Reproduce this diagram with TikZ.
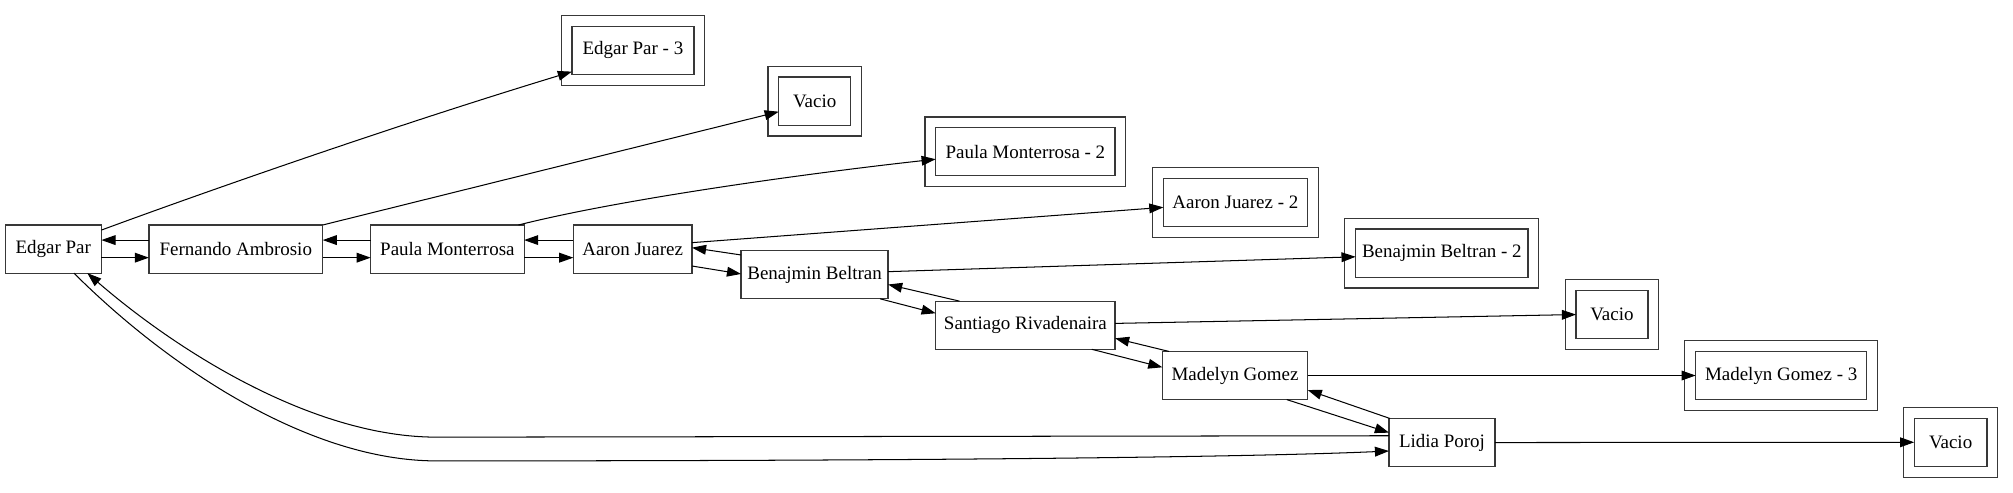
\documentclass[tikz,border=0pt]{standalone}
\usepackage{fontspec}
\setmainfont{Liberation Serif}
\usetikzlibrary{arrows.meta}
\tikzset{
  box/.style={draw=black!78, line width=0.95pt, rectangle, minimum height=37.5pt,
    inner sep=0pt, outer sep=0pt, font=\fontsize{14.78pt}{17pt}\selectfont},
  outerline/.style={draw=black!78, line width=0.95pt},
  edge/.style={draw=black, line width=0.8pt, -{Triangle[length=11pt,width=7.6pt]}}
}
\begin{document}
\begin{tikzpicture}[x=1pt,y=-1pt]
\useasboundingbox (0,0) rectangle (1568,384);
% main chain
\node[box, minimum width=75pt]    (ep) at (41.5,194)   {Edgar Par};
\node[box, minimum width=135.4pt] (fa) at (183.7,194)  {Fernando Ambrosio};
\node[box, minimum width=119.5pt] (pm) at (348.5,194)  {Paula Monterrosa};
\node[box, minimum width=92.4pt]  (aj) at (492.8,194)  {Aaron Juarez};
\node[box, minimum width=114.5pt] (bb) at (634.5,214)  {Benajmin Beltran};
\node[box, minimum width=139.7pt] (sr) at (798.7,253.3){Santiago Rivadenaira};
\node[box, minimum width=113.2pt] (mg) at (962,292.5)  {Madelyn Gomez};
\node[box, minimum width=82.5pt]  (lp) at (1123.2,344.7){Lidia Poroj};
% double boxes (inner)
\node[box, minimum width=95pt]    (ep3) at (493,39.2)    {Edgar Par - 3};
\node[box, minimum width=56pt]    (v1)  at (634.6,78.8)  {Vacio};
\node[box, minimum width=139.7pt] (pm2) at (798.7,118.2) {Paula Monterrosa - 2};
\node[box, minimum width=112.2pt] (aj2) at (962.3,157.7) {Aaron Juarez - 2};
\node[box, minimum width=134.3pt] (bb2) at (1123.1,197.1){Benajmin Beltran - 2};
\node[box, minimum width=56pt]    (v2)  at (1255.6,245)  {Vacio};
\node[box, minimum width=133.2pt] (mg3) at (1387.4,292.5){Madelyn Gomez - 3};
\node[box, minimum width=56.7pt]  (v3)  at (1519.4,344.5){Vacio};
\foreach \n in {ep3,v1,pm2,aj2,bb2,v2,mg3,v3}
  \draw[outerline] ([shift={(-8.4pt,8.4pt)}]\n.north west) rectangle ([shift={(8.4pt,-8.4pt)}]\n.south east);
% chain edges
\draw[edge] ([yshift=-6.7pt]ep.east) -- ([yshift=-6.7pt]fa.west);
\draw[edge] ([yshift=7pt]fa.west) -- ([yshift=7pt]ep.east);
\draw[edge] ([yshift=-6.7pt]fa.east) -- ([yshift=-6.7pt]pm.west);
\draw[edge] ([yshift=7pt]pm.west) -- ([yshift=7pt]fa.east);
\draw[edge] ([yshift=-6.7pt]pm.east) -- ([yshift=-6.7pt]aj.west);
\draw[edge] ([yshift=7pt]aj.west) -- ([yshift=7pt]pm.east);
\draw[edge] ([yshift=-13.2pt]aj.east) -- ([yshift=0.6pt]bb.west);
\draw[edge] ([yshift=15.4pt]bb.west) -- ([yshift=1.1pt]aj.east);
\draw[edge] ([xshift=-6.2pt]bb.south east) -- ([yshift=9.3pt]sr.west);
\draw[edge] ([xshift=18.5pt]sr.north west) -- ([yshift=-7.6pt]bb.east);
\draw[edge] ([xshift=-18.2pt]sr.south east) -- ([yshift=6.4pt]mg.west);
\draw[edge] ([xshift=5.2pt]mg.north west) -- ([yshift=-10.2pt]sr.east);
\draw[edge] ([xshift=-16.3pt]mg.south east) -- ([yshift=7.7pt]lp.west);
\draw[edge] ([xshift=0.7pt]lp.north west) -- ([yshift=-11.3pt]mg.east);
% long curves
\coordinate (ci) at (340,340.5);
\coordinate (co) at (340,359);
\draw[edge] ([yshift=5.3pt]lp.west) -- (ci) .. controls (245,340.5) and (140,275) .. ([xshift=26.5pt]ep.south);
\draw[edge] ([xshift=16.1pt]ep.south) .. controls (130,285) and (240,359) .. (co) .. controls (800,359) and (1000,355) .. ([yshift=-6.6pt]lp.west);
% edges to double boxes
\draw[edge] ([yshift=14.8pt]ep.east) .. controls (150,153) and (300,100) .. ([yshift=-16.6pt]ep3.west);
\draw[edge] (fa.north east) -- ([yshift=-8.2pt]v1.west);
\draw[edge] ([xshift=-4.4pt]pm.north east) .. controls (484,155) and (629,135) .. ([yshift=-5.8pt]pm2.west);
\draw[edge] ([yshift=5pt]aj.east) -- ([yshift=-3.8pt]aj2.west);
\draw[edge] ([yshift=2.4pt]bb.east) -- ([yshift=-2.9pt]bb2.west);
\draw[edge] ([yshift=1.4pt]sr.east) -- (v2.west);
\draw[edge] (mg.east) -- (mg3.west);
\draw[edge] (lp.east) -- (v3.west);
\end{tikzpicture}
\end{document}
